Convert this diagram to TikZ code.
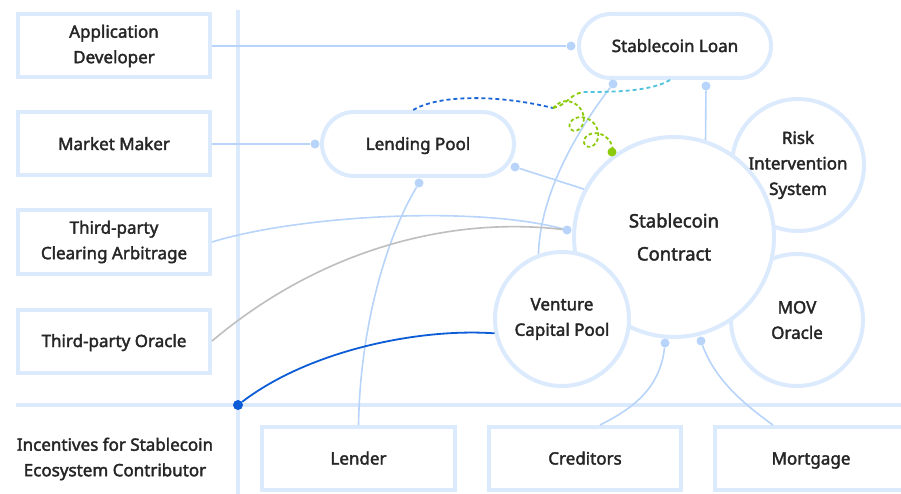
\documentclass[tikz,border=0pt]{standalone}
\usepackage{fontspec}
\setmainfont{Noto Sans}
\newfontfamily\medfont{Noto Sans}[FakeBold=2.2]
\usetikzlibrary{decorations.pathmorphing}
\definecolor{boxc}{HTML}{DCEAFD}
\definecolor{connc}{HTML}{B8D4FA}
\definecolor{txt}{HTML}{262626}
\definecolor{dblue}{HTML}{0B5CD6}
\definecolor{gry}{HTML}{BEBEBE}
\definecolor{cyanc}{HTML}{4FC2DC}
\definecolor{grn}{HTML}{8CCB0C}
\definecolor{dashblue}{HTML}{1A66D9}
\begin{document}
\begin{tikzpicture}[x=1pt,y=-1pt,
  lbl/.style={text=txt, font=\medfont\fontsize{17}{25.5}\selectfont, align=center},
  sqbox/.style={lbl, draw=boxc, line width=4pt, fill=white, minimum width=192pt, minimum height=63pt, inner sep=0pt},
  pill/.style={sqbox, rounded corners=32pt, minimum height=64pt},
  bub/.style={lbl, circle, draw=boxc, line width=4pt, fill=white, inner sep=0pt},
  link/.style={draw=connc, line width=1.6pt},
  dot/.style={circle, fill=connc, inner sep=0pt, minimum size=9pt},
  dashln/.style={line width=1.8pt, dash pattern=on 4pt off 3pt},
  onel/.style={text height=12pt, text depth=0pt},
  ]
\useasboundingbox (0,0) rectangle (901,494);
\fill[white] (0,0) rectangle (901,494);
% frame lines
\draw[boxc, line width=4pt] (238,10) -- (238,494);
\draw[boxc, line width=4pt] (16,405) -- (901,405);

% left boxes
\node[sqbox] (appdev) at (114,46) {Application\\Developer};
\node[sqbox, onel] (mm) at (114,144) {Market Maker};
\node[sqbox] (clr) at (114,242) {Third-party\\Clearing Arbitrage};
\node[sqbox, onel] (orc) at (114,341) {Third-party Oracle};
\node[lbl] (inc) at (115,459) {Incentives for Stablecoin\\Ecosystem Contributor};

% bottom boxes
\node[sqbox, onel, minimum width=193pt] (lender) at (358.5,458.5) {Lender};
\node[sqbox, onel] (cred) at (585,458.5) {Creditors};
\node[sqbox, onel] (mort) at (811,458.5) {Mortgage};

% pills
\node[pill, onel] (loan) at (675,46) {Stablecoin Loan};
\node[pill, onel] (lpool) at (418,144) {Lending Pool};

% circles
\node[bub, minimum size=132pt] (risk) at (798,165) {Risk\\Intervention\\System};
\node[bub, minimum size=132pt] (mov) at (797,320) {MOV\\Oracle};
\node[bub, minimum size=200pt, font=\medfont\fontsize{18.5}{33}\selectfont] (contract) at (674,237) {Stablecoin\\Contract};
\node[bub, minimum size=134pt] (venture) at (562,319) {Venture\\Capital Pool};

% dots
\node[dot] (d1) at (571,46) {};
\node[dot] (d2) at (315,144) {};
\node[dot] (d3) at (706,86) {};
\node[dot] (d4) at (613,84) {};
\node[dot] (d5) at (515,167) {};
\node[dot] (d6) at (419,183) {};
\node[dot] (d9) at (665,343) {};
\node[dot] (d10) at (701,341) {};

% connectors
\draw[link] (appdev.east) -- (d1);
\draw[link] (mm.east) -- (d2);
\draw[link] (d3) -- (contract.72);
\draw[link] (d4) .. controls (570,140) and (540,200) .. (venture.110);
\draw[link] (d5) -- (contract.152);
\draw[link] (d6) .. controls (385,240) and (360,330) .. (lender.north);
\coordinate (cj) at (567,230);
\draw[link] (clr.east) .. controls (300,215) and (480,205) .. (cj);
\draw[gry, line width=1.6pt] (orc.east) .. controls (320,250) and (450,215) .. (cj);
\node[dot] (d7) at (cj) {};
\draw[link] (d9) .. controls (660,390) and (630,410) .. ([xshift=15pt]cred.north);
\draw[link] (d10) .. controls (715,380) and (745,405) .. ([xshift=-38pt]mort.north);
\node[circle, fill=dblue, inner sep=0pt, minimum size=10pt] (d8) at (238,405) {};
\draw[dblue, line width=1.8pt] (d8) .. controls (310,350) and (420,328) .. (venture.192);

% dashed
\coordinate (bj) at (553,108);
\coordinate (cy) at (583,92);
\draw[dashblue, dashln] (lpool.98) .. controls (440,94) and (500,95) .. (bj);
\draw[cyanc, dashln] ([xshift=-5pt]loan.south) .. controls (650,92) and (610,92) .. (cy);
\draw[grn, dashln] (bj) .. controls (566,106) and (570,94) .. (cy);
\node[circle, fill=grn, inner sep=0pt, minimum size=9pt] (gd) at (612,152) {};
\draw[grn, line width=1.8pt, dash pattern=on 3.5pt off 2.5pt] (bj) -- plot[domain=-150:740, samples=150, smooth, variable=\t] ({573+14.5*\t/360+10.5*cos(\t)}, {116+16*\t/360+10.5*sin(\t)}) -- (gd.center);
\end{tikzpicture}
\end{document}
